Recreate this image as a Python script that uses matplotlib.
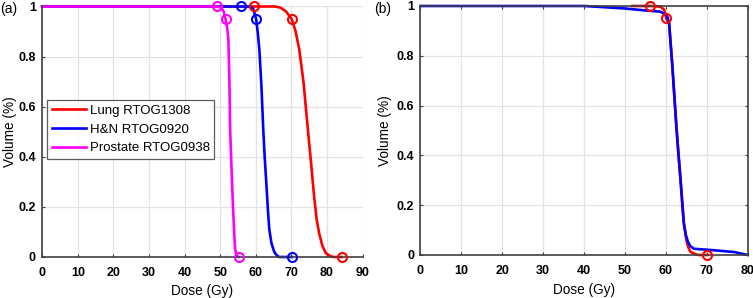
import numpy as np
import matplotlib; matplotlib.use("Agg")
import matplotlib.pyplot as plt

plt.rcParams['font.family'] = ['Liberation Sans', 'DejaVu Sans']

# ---- panel (a): DVH curves for three protocols
lung_dose = [0, 59.6, 65.5, 67.0, 68.5, 70.1, 71.2, 72.2, 73.4, 74.5, 75.5, 76.4, 77.1, 77.8, 78.7, 79.7, 81.1, 82.0, 84.1]
lung_vol  = [1, 1, 1.0, 0.995, 0.98, 0.95, 0.90, 0.83, 0.70, 0.53, 0.38, 0.24, 0.15, 0.095, 0.045, 0.015, 0.002, 0, 0]
lung_mk_dose = [59.6, 70.1, 84.1]
lung_mk_vol  = [1, 0.95, 0]

hn_dose = [0, 55.9, 58.5, 59.3, 60.1, 60.6, 61.0, 61.6, 62.1, 62.5, 62.9, 63.4, 63.8, 64.4, 65.2, 66.0, 66.6, 70.1]
hn_vol  = [1, 1, 1.0, 0.99, 0.95, 0.89, 0.83, 0.68, 0.51, 0.40, 0.31, 0.19, 0.11, 0.055, 0.02, 0.005, 0, 0]
hn_mk_dose = [55.9, 60.1, 70.1]
hn_mk_vol  = [1, 0.95, 0]

pr_dose = [0, 49.0, 50.3, 51.0, 51.5, 52.0, 52.3, 52.6, 52.8, 53.2, 53.6, 54.0, 54.2, 54.7, 55.2]
pr_vol  = [1, 1, 0.995, 0.98, 0.95, 0.91, 0.87, 0.70, 0.51, 0.35, 0.20, 0.08, 0.03, 0.003, 0]
pr_mk_dose = [49.0, 51.5, 55.2]
pr_mk_vol  = [1, 0.95, 0]

# ---- panel (b): reference vs. plan
b_blue_dose = [0, 40, 45, 50, 55, 58.7, 60.0, 60.4, 60.8, 61.6, 62.6, 63.1, 63.6, 64.0, 64.4, 64.9, 65.4, 66.0, 66.9, 71.0, 76.7, 80.0]
b_blue_vol  = [1, 1, 0.995, 0.99, 0.982, 0.977, 0.965, 0.955, 0.93, 0.756, 0.509, 0.40, 0.30, 0.21, 0.127, 0.08, 0.053, 0.035, 0.025, 0.02, 0.012, 0.0]
b_red_dose = [51.8, 56.1, 58.7, 59.6, 60.1, 60.8, 61.6, 62.6, 63.6, 64.4, 65.0, 65.5, 66.0, 67.3, 68.0, 70.1]
b_red_vol  = [1, 1, 0.997, 0.985, 0.95, 0.93, 0.756, 0.509, 0.30, 0.127, 0.06, 0.03, 0.013, 0.003, 0, 0]
b_mk_dose = [56.1, 60.1, 70.1]
b_mk_vol  = [1, 0.95, 0]

legend_labels = ["Lung RTOG1308", "H&N RTOG0920", "Prostate RTOG0938"]
RED, BLUE, MAG = "#ff0000", "#0000ff", "#ff00ff"
AX_COL = "#404040"

fig = plt.figure(figsize=(7.53, 2.98), dpi=100)
axa = fig.add_axes([0.0560, 0.1376, 0.4255, 0.8406])
axb = fig.add_axes([0.5584, 0.1443, 0.4345, 0.8356])

def style(ax, xmax, box, ylab_x, xlab_y):
    ax.set_xlim(0, xmax); ax.set_ylim(0, 1)
    ax.set_xticks(np.arange(0, xmax + 1, 10))
    ax.set_yticks([0, 0.2, 0.4, 0.6, 0.8, 1])
    ax.set_yticklabels(["0", "0.2", "0.4", "0.6", "0.8", "1"])
    ax.grid(True, color="#e3e3e3", lw=0.9)
    ax.set_axisbelow(True)
    ax.tick_params(direction="in", length=2.5, width=0.8, colors=AX_COL,
                   labelsize=9, labelcolor="black", top=box, right=box)
    ax.tick_params(axis="x", pad=7.2)
    ax.tick_params(axis="y", pad=4.5)
    for lab in ax.get_xticklabels() + ax.get_yticklabels():
        lab.set_fontweight("bold")
    for s in ax.spines.values():
        s.set_color(AX_COL); s.set_linewidth(1.2)
    if not box:
        ax.spines["top"].set_visible(False); ax.spines["right"].set_visible(False)
    xl = ax.set_xlabel("Dose (Gy)", fontsize=9.8, va="center")
    yl = ax.set_ylabel("Volume (%)", fontsize=9.8, va="center")
    ax.xaxis.set_label_coords(0.5, xlab_y)
    ax.yaxis.set_label_coords(ylab_x, 0.5)

lw = 1.9
mk = dict(ls="none", marker="o", mfc="none", ms=6.5, mew=1.5, clip_on=False, zorder=5)

axa.plot(lung_dose, lung_vol, color=RED, lw=lw, label=legend_labels[0], clip_on=False)
axa.plot(hn_dose, hn_vol, color=BLUE, lw=lw, label=legend_labels[1], clip_on=False)
axa.plot(pr_dose, pr_vol, color=MAG, lw=lw, label=legend_labels[2], clip_on=False)
axa.plot(lung_mk_dose, lung_mk_vol, color=RED, **mk)
axa.plot(hn_mk_dose, hn_mk_vol, color=BLUE, **mk)
axa.plot(pr_mk_dose, pr_mk_vol, color=MAG, **mk)
style(axa, 90, box=False, ylab_x=-0.100, xlab_y=-0.1345)
leg = axa.legend(loc="upper left", bbox_to_anchor=(0.015, 0.627), fontsize=9.5,
                 frameon=True, fancybox=False, edgecolor="#333333",
                 handlelength=2.6, handletextpad=0.3, borderpad=0.35,
                 labelspacing=0.5, borderaxespad=0)
leg.get_frame().set_linewidth(0.9)

axb.plot(b_red_dose, b_red_vol, color=RED, lw=lw, clip_on=False)
axb.plot(b_blue_dose, b_blue_vol, color=BLUE, lw=lw, clip_on=False)
axb.plot(b_mk_dose, b_mk_vol, color=RED, **mk)
style(axb, 80, box=True, ylab_x=-0.108, xlab_y=-0.1406)

fig.text(0.0, 0.955, "(a)", fontsize=10)
fig.text(0.497, 0.955, "(b)", fontsize=10)

fig.savefig("out.png", dpi=100)
